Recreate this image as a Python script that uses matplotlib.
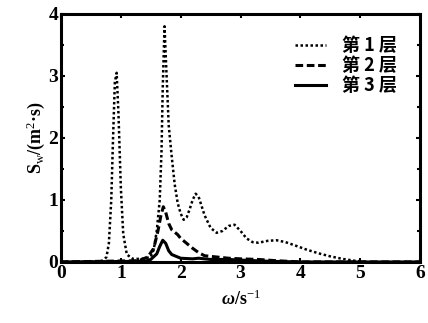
import matplotlib.pyplot as plt
from matplotlib.ticker import MultipleLocator

plt.rcParams['font.family'] = ['Liberation Serif', 'Noto Sans CJK SC']
plt.rcParams['mathtext.fontset'] = 'custom'
plt.rcParams['mathtext.rm'] = 'Liberation Serif'
plt.rcParams['mathtext.it'] = 'Liberation Serif:italic:bold'
plt.rcParams['mathtext.bf'] = 'Liberation Serif:bold'

# layer 1 (dotted)
x1 = [0, 0.5, 0.7, 0.76, 0.8, 0.84, 0.87, 0.9, 0.93, 0.96, 1.0, 1.04, 1.1, 1.2,
      1.35, 1.5, 1.55, 1.6, 1.65, 1.68, 1.7, 1.73, 1.76, 1.8, 1.85, 1.9, 1.95,
      2.0, 2.05, 2.1, 2.15, 2.2, 2.25, 2.3, 2.35, 2.4, 2.5, 2.6, 2.7, 2.8, 2.9,
      3.0, 3.1, 3.2, 3.3, 3.45, 3.6, 3.75, 3.9, 4.1, 4.3, 4.5, 4.7, 4.9, 5.1]
y1 = [0, 0, 0.02, 0.08, 0.3, 1.0, 2.0, 2.9, 3.05, 2.4, 1.2, 0.45, 0.12, 0.05,
      0.05, 0.08, 0.2, 0.5, 1.0, 1.8, 2.8, 3.8, 3.1, 2.2, 1.7, 1.25, 0.95,
      0.78, 0.68, 0.72, 0.85, 1.0, 1.1, 1.05, 0.9, 0.75, 0.55, 0.47, 0.5, 0.58, 0.6,
      0.5, 0.38, 0.32, 0.31, 0.34, 0.35, 0.32, 0.27, 0.2, 0.14, 0.09, 0.05, 0.02, 0]

# layer 2 (dashed)
x2 = [0, 1.3, 1.45, 1.55, 1.62, 1.67, 1.71, 1.75, 1.8, 1.85, 1.9, 1.95, 2.0, 2.1,
      2.2, 2.3, 2.4, 2.6, 2.8, 3.0, 3.3, 3.6, 4.0, 6.0]
y2 = [0, 0.02, 0.08, 0.22, 0.5, 0.75, 0.89, 0.8, 0.62, 0.52, 0.48, 0.44, 0.38, 0.3,
      0.22, 0.15, 0.1, 0.08, 0.06, 0.05, 0.04, 0.02, 0, 0]

# layer 3 (solid)
x3 = [0, 1.4, 1.5, 1.6, 1.65, 1.7, 1.75, 1.8, 1.85, 1.9, 2.0, 2.2, 2.3, 2.5,
      2.8, 3.0, 3.5, 4.0, 6.0]
y3 = [0, 0.01, 0.04, 0.13, 0.25, 0.35, 0.3, 0.18, 0.12, 0.1, 0.06, 0.05, 0.06, 0.04,
      0.04, 0.03, 0.01, 0, 0]

labels = ['第 1 层', '第 2 层', '第 3 层']

fig = plt.figure(figsize=(4.28, 3.23), dpi=100)
ax = fig.add_axes([0.1425, 0.189, 0.839, 0.768])

ax.plot(x1, y1, color='black', lw=1.8, linestyle=(0, (1, 1)), label=labels[0])
ax.plot(x2, y2, color='black', lw=2.2, linestyle=(0, (2.5, 1.2)), label=labels[1])
ax.plot(x3, y3, color='black', lw=2.2, linestyle='-', label=labels[2])

ax.set_xlim(0, 6)
ax.set_ylim(0, 4)
ax.xaxis.set_major_locator(MultipleLocator(1))
ax.yaxis.set_major_locator(MultipleLocator(1))
ax.yaxis.set_minor_locator(MultipleLocator(0.5))
ax.tick_params(which='both', direction='in', top=True, right=True, width=1.5)
ax.tick_params(which='major', length=3, labelsize=14, pad=2)
ax.tick_params(which='minor', length=2)
for lab in ax.get_xticklabels() + ax.get_yticklabels():
    lab.set_fontweight('bold')
for sp in ax.spines.values():
    sp.set_linewidth(2.2)

ax.set_xlabel(r'$\omega$/s$^{-1}$', fontsize=13, fontweight='bold', labelpad=6)
ax.set_ylabel(r'S$_{\mathrm{w}}$/(m$^{2}$·s)', fontsize=13, fontweight='bold', labelpad=1)

leg = ax.legend(loc='upper right', bbox_to_anchor=(0.98, 0.975), frameon=False,
                handlelength=1.7, handletextpad=0.9, labelspacing=0.05,
                prop={'family': ['Noto Sans CJK SC'], 'weight': 'bold', 'size': 13})

fig.savefig('out.png', dpi=100)
